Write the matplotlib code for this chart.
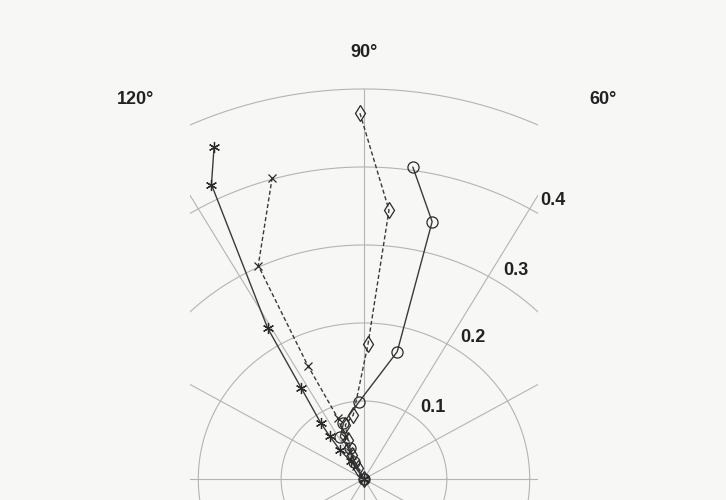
import numpy as np
import matplotlib
matplotlib.use("Agg")
import matplotlib.pyplot as plt

# polar data: angle in degrees, radius
star_theta = [113, 116, 121, 123, 126, 127, 128, 125, 0]
star_r = [0.463, 0.420, 0.226, 0.139, 0.089, 0.069, 0.047, 0.028, 0.0]

cross_theta = [106, 115, 115, 112, 113, 116, 120, 0]
cross_r = [0.402, 0.302, 0.160, 0.084, 0.059, 0.039, 0.019, 0.0]

diamond_theta = [90.6, 85, 88.4, 99, 108, 111, 115, 117, 0]
diamond_r = [0.469, 0.346, 0.173, 0.083, 0.073, 0.054, 0.034, 0.016, 0.0]

circle_theta = [81.6, 76, 76.2, 93.5, 109, 118, 113, 119, 0]
circle_r = [0.404, 0.340, 0.168, 0.099, 0.076, 0.061, 0.043, 0.025, 0.0]

ring_values = [0.1, 0.2, 0.3, 0.4, 0.5]
ring_labels = ["0.1", "0.2", "0.3", "0.4"]
spoke_angles = np.arange(0, 360, 30)
angle_labels = ["120°", "90°", "60°"]
rmax = 0.5

grid_col = "#b4b4b4"
line_col = "#3a3a3a"


def to_xy(theta_deg, r):
    t = np.radians(np.asarray(theta_deg, dtype=float))
    r = np.asarray(r, dtype=float)
    return r * np.cos(t), r * np.sin(t)


fig = plt.figure(figsize=(7.26, 5.0), dpi=100, facecolor="#f7f7f5")
ax = fig.add_axes([190 / 726, 0.0, 348 / 726, 0.84])
ax.set_facecolor("none")
ax.set_xlim(-0.21, 0.21)
ax.set_ylim(-0.0269, 0.5115)
ax.set_aspect("auto")
ax.axis("off")

# polar grid, clipped by the axes box
phi = np.linspace(0, 360, 721)
for rv in ring_values:
    gx, gy = to_xy(phi, np.full_like(phi, rv))
    ax.plot(gx, gy, color=grid_col, lw=0.8, zorder=1)
for a in spoke_angles:
    gx, gy = to_xy([a, a], [0, rmax])
    ax.plot(gx, gy, color=grid_col, lw=0.8, zorder=1)

txt = dict(fontsize=13, fontweight="bold", family="Liberation Sans",
           color="#222222", ha="center", va="center", clip_on=False)

# radius labels, a little outside each ring
for rv, lab, a in zip(ring_values, ring_labels, [48, 54, 55.5, 57.5]):
    lx, ly = to_xy(a, rv + 0.024)
    ax.text(lx, ly, lab, **txt)

# angle labels
for lab, a, rr in zip(angle_labels, [119.5, 90, 59.3], [0.559, 0.547, 0.566]):
    lx, ly = to_xy(a, rr)
    ax.text(lx, ly, lab, **txt)

series = [
    (star_theta, star_r, (6, 2, 0), "-", 8),
    (cross_theta, cross_r, "x", (0, (3, 1.8)), 6),
    (diamond_theta, diamond_r, "d", (0, (3, 1.8)), 8),
    (circle_theta, circle_r, "o", "-", 8),
]
for th, rr, mk, ls, ms in series:
    sx, sy = to_xy(th, rr)
    ax.plot(sx, sy, color=line_col, ls=ls, lw=1.0, marker=mk, ms=ms,
            mfc="none", mec="#2a2a2a", mew=0.9, zorder=3)

fig.savefig("out.png", dpi=100, facecolor=fig.get_facecolor())
